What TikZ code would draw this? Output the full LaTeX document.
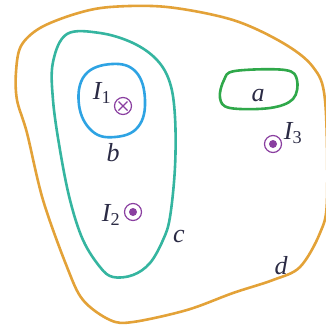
\documentclass[tikz,border=0pt]{standalone}
\usepackage{fontspec}
\setmainfont{Liberation Serif}
\definecolor{dcol}{HTML}{E3A238}
\definecolor{ccol}{HTML}{35B5A0}
\definecolor{bcol}{HTML}{2EA3E3}
\definecolor{acol}{HTML}{2FA84A}
\definecolor{pcol}{HTML}{8A3FA0}
\definecolor{tcol}{HTML}{2B2B45}
\tikzset{
  loop/.style={line width=2.6pt, line join=round},
  lbl/.style={font=\fontsize{26}{28}\selectfont\itshape, text=tcol, inner sep=0pt},
  cur/.style={draw=pcol, line width=1.2pt, circle, minimum size=17pt, inner sep=0pt},
}
\begin{document}
\begin{tikzpicture}[x=1pt,y=-1pt]
\useasboundingbox (0,0) rectangle (326,327);
% loop d
\draw[loop, dcol] plot[smooth cycle, tension=0.55] coordinates {
 (16,72) (21,46) (40,28) (75,14) (110,7) (167,7) (233,20) (283,43) (313,67) (325,100)
 (327,200) (320,233) (300,267) (273,280) (233,293) (187,310) (133,322) (110,320)
 (83,300) (67,267) (43,200) (27,133) (17,100)};
% loop c
\draw[loop, ccol] plot[smooth cycle, tension=0.6] coordinates {
 (67,34) (100,33) (133,43) (157,60) (170,83) (175,117) (175,167) (170,217)
 (163,240) (150,263) (133,275) (113,277) (100,267) (83,240) (70,200) (60,150)
 (53,100) (53,62)};
% loop b
\draw[loop, bcol] plot[smooth cycle, tension=0.7] coordinates {
 (112,64) (136,72) (145,100) (138,127) (115,137) (92,131) (79,105) (85,75)};
% loop a
\draw[loop, acol] plot[smooth cycle, tension=0.6] coordinates {
 (235,71) (285,70) (297,80) (293,99) (270,108) (230,108) (220,98) (224,80)};
% currents
\node[cur] (i1) at (123,106) {};
\draw[pcol, line width=1.1pt] ([shift={(-4.5,-4.5)}]i1.center) -- ([shift={(4.5,4.5)}]i1.center)
  ([shift={(-4.5,4.5)}]i1.center) -- ([shift={(4.5,-4.5)}]i1.center);
\node[cur] (i2) at (133,212) {};
\fill[pcol] (i2.center) circle (4pt);
\node[cur] (i3) at (273,144) {};
\fill[pcol] (i3.center) circle (4pt);
% labels
\node[lbl] (l1) at (102,93) {I\textsubscript{\upshape 1}};
\node[lbl] (lb) at (113,153) {b};
\node[lbl] (l2) at (111,215) {I\textsubscript{\upshape 2}};
\node[lbl] (lc) at (179,236) {c};
\node[lbl] (ld) at (281,266) {d};
\node[lbl] (la) at (258,96) {a};
\node[lbl] (l3) at (293,133) {I\textsubscript{\upshape 3}};
\end{tikzpicture}
\end{document}
